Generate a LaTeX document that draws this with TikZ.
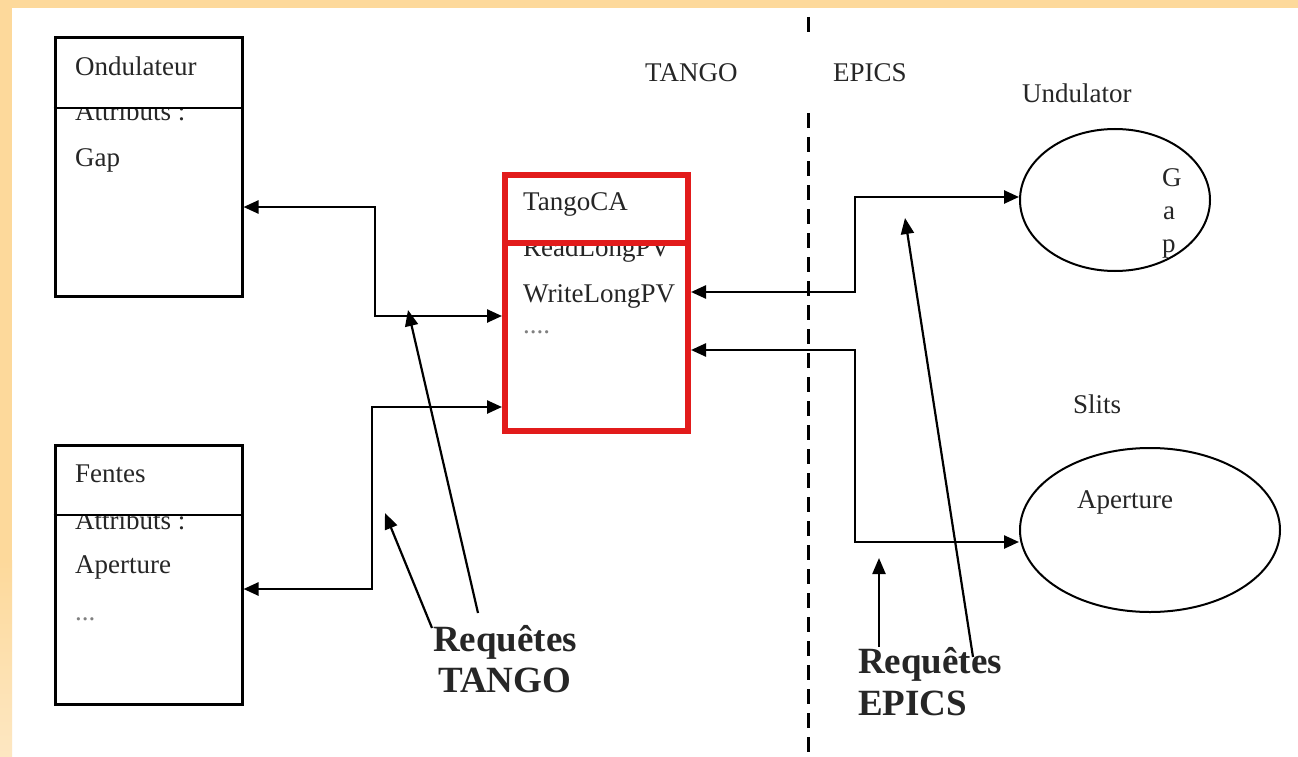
\documentclass[tikz,border=0pt]{standalone}
\usepackage{fontspec}
\setmainfont{Liberation Serif}
\usetikzlibrary{arrows.meta,shapes.geometric}
\definecolor{bandorange}{HTML}{FDD99B}
\definecolor{bandlight}{HTML}{FDE7C2}
\definecolor{boxred}{HTML}{E21B1B}
\definecolor{txt}{HTML}{262626}
\tikzset{
  txtlabel/.style={anchor=base west,inner sep=0pt,text=txt,font=\fontsize{27}{30}\selectfont},
  biglabel/.style={anchor=base west,inner sep=0pt,text=txt,align=left,font=\fontsize{37}{42}\bfseries\selectfont},
  classbox/.style={draw=black,line width=3pt,minimum width=187pt,minimum height=258pt,inner sep=0pt},
  redbox/.style={draw=boxred,line width=6pt,minimum width=183pt,minimum height=256pt,inner sep=0pt},
  objell/.style={draw=black,ellipse,line width=2pt,inner sep=0pt},
  conn/.style={line width=2.5pt,{Triangle[length=15pt,width=13pt]}-{Triangle[length=15pt,width=13pt]}},
  pointer/.style={line width=2.2pt,-{Triangle[length=16pt,width=13pt]}},
}
\begin{document}
\begin{tikzpicture}[x=1pt,y=-1pt]
\useasboundingbox (0,0) rectangle (1298,757);
\fill[white] (0,0) rectangle (1298,757);
% orange border
\fill[bandorange] (0,0) rectangle (1298,8);
\fill[bandorange] (0,0) rectangle (12,560);
\shade[top color=bandorange,bottom color=bandlight] (0,560) rectangle (12,757);

% dashed separator
\draw[line width=3pt] (808,17) -- (808,32);
\draw[line width=3pt,dash pattern=on 15pt off 9pt] (808,113) -- (808,757);

% class boxes
\node[classbox] (ond) at (148.5,167) {};
\node[txtlabel] (ondA) at (75,121) {Attributs :};
\fill[white] (57,40) rectangle (240,107);
\node[txtlabel] (ondT) at (75,76) {Ondulateur};
\draw[line width=2pt] (ond.west |- 0,108) -- (ond.east |- 0,108);
\node[txtlabel] (ondG) at (75,166) {Gap};

\node[classbox,minimum height=259pt] (fen) at (148.5,574.5) {};
\node[txtlabel] (fenA) at (75,529) {Attributs :};
\fill[white] (57,447) rectangle (240,514);
\node[txtlabel] (fenT) at (75,482) {Fentes};
\draw[line width=2pt] (fen.west |- 0,515) -- (fen.east |- 0,515);
\node[txtlabel] (fenP) at (75,573) {Aperture};
\node[txtlabel,text=gray] (fenD) at (75,620) {...};

% TangoCA
\node[redbox] (tca) at (596.5,303) {};
\node[txtlabel] (tcaR) at (523,256) {ReadLongPV};
\fill[white] (508,178) rectangle (685,240);
\node[txtlabel] (tcaT) at (523,210) {TangoCA};
\node[txtlabel] (tcaW) at (523,302) {WriteLongPV};
\node[txtlabel,text=gray] (tcaD) at (523,333) {....};
\draw[boxred,line width=6pt] (tca.west |- 0,243) -- (tca.east |- 0,243);

% headings
\node[txtlabel] (tango) at (645,82) {TANGO};
\node[txtlabel] (epics) at (833,82) {EPICS};

% EPICS objects
\node[txtlabel] (undT) at (1022,103) {Undulator};
\node[objell,minimum width=190pt,minimum height=142pt] (und) at (1115,200) {};
\node[txtlabel] (g1) at (1162,186) {G};
\node[txtlabel] (g2) at (1163,219) {a};
\node[txtlabel] (g3) at (1162,252) {p};

\node[txtlabel] (slT) at (1073,413) {Slits};
\node[objell,minimum width=260pt,minimum height=164pt] (sl) at (1150,530) {};
\node[txtlabel] (slA) at (1077,508) {Aperture};

% connectors
\draw[conn] (ond.east |- 0,207) -- (375,207) -- (375,316) -- (tca.west |- 0,316);
\draw[conn] (fen.east |- 0,589) -- (372,589) -- (372,407) -- (tca.west |- 0,407);
\draw[conn] (tca.east |- 0,292) -- (855,292) -- (855,197) -- (und.west |- 0,197);
\draw[conn] (tca.east |- 0,350) -- (855,350) -- (855,542) -- (sl.west |- 0,542);

% request labels
\node[biglabel] (reqT) at (433,692) {Requêtes\\[-1pt]\hspace*{5pt}TANGO};
\node[biglabel] (reqE) at (858,715) {Requêtes\\EPICS};

\coordinate (rt1s) at (432,628);
\coordinate (rt1e) at (385,513);
\coordinate (rt2s) at (478,613);
\coordinate (rt2e) at (408,310);
\coordinate (re1s) at (879,647);
\coordinate (re1e) at (879,558);
\coordinate (re2s) at (973,657);
\coordinate (re2e) at (905,218);
\draw[pointer] (rt1s) -- (rt1e);
\draw[pointer] (rt2s) -- (rt2e);
\draw[pointer] (re1s) -- (re1e);
\draw[pointer] (re2s) -- (re2e);
\end{tikzpicture}
\end{document}
